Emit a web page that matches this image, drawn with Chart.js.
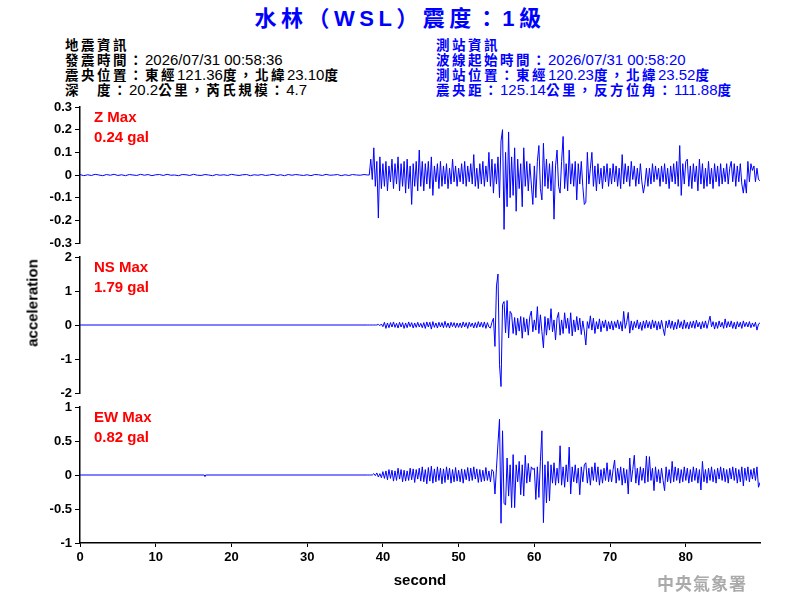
<!DOCTYPE html>
<html>
<head>
<meta charset="utf-8">
<script src="https://cdn.jsdelivr.net/npm/chart.js@4.4.1/dist/chart.umd.min.js"></script>
<style>
  body { margin: 0; background: #fff; }
  #page { position: relative; width: 800px; height: 600px; overflow: hidden; font-family: "Liberation Sans", Arial, "Noto Sans CJK TC", sans-serif; }
  #title { position: absolute; left: 0; width: 800px; top: 4px; text-align: center; color: #0000ff; font-weight: bold; font-size: 22px; letter-spacing: 4.5px; line-height: 30px; }
  .info { position: absolute; top: 37px; font-size: 15px; line-height: 15px; white-space: pre; }
  .info .c { font-family: "Noto Sans CJK TC", sans-serif; font-size: 13.5px; font-weight: bold; letter-spacing: 2.5px; }
  #quake { left: 65px; color: #000; }
  #station { left: 436px; color: #0000ff; }
  .panel { position: absolute; left: 0; width: 800px; }
  .tag { position: absolute; left: 94px; color: #ff0000; font-weight: bold; font-size: 15px; line-height: 20px; }
  #ylab { position: absolute; left: 32px; top: 303px; transform: translate(-50%, -50%) rotate(-90deg); font-weight: bold; font-size: 15px; color: #000; white-space: nowrap; }
  #mark { position: absolute; left: 657px; top: 570px; color: #aaa; font-size: 17px; letter-spacing: 1px; font-family: "Noto Sans CJK TC", serif; font-weight: bold; }
</style>
</head>
<body>
<div id="page">
  <div id="title">水林（WSL）震度：1級</div>
  <div id="quake" class="info"><span class="c">地震資訊</span>
<span class="c">發震時間：</span>2026/07/31 00:58:36
<span class="c">震央位置：東經</span>121.36<span class="c">度，北緯</span>23.10<span class="c">度</span>
<span class="c">深　度：</span>20.2<span class="c">公里，芮氏規模：</span>4.7</div>
  <div id="station" class="info"><span class="c">測站資訊</span>
<span class="c">波線起始時間：</span>2026/07/31 00:58:20
<span class="c">測站位置：東經</span>120.23<span class="c">度，北緯</span>23.52<span class="c">度</span>
<span class="c">震央距：</span>125.14<span class="c">公里，反方位角：</span>111.88<span class="c">度</span></div>

  <div class="panel" style="top:90px;height:170px"><canvas id="zChart"></canvas></div>
  <div class="panel" style="top:240px;height:170px"><canvas id="nsChart"></canvas></div>
  <div class="panel" style="top:390px;height:210px"><canvas id="ewChart"></canvas></div>

  <div class="tag" style="top:107px">Z Max<br>0.24 gal</div>
  <div class="tag" style="top:257px">NS Max<br>1.79 gal</div>
  <div class="tag" style="top:407px">EW Max<br>0.82 gal</div>
  <div id="ylab">acceleration</div>
  <div id="mark">中央氣象署</div>
</div>

<script>
// time axis (seconds)
const timeMax = 89.8;
const timeTicks = [0, 10, 20, 30, 40, 50, 60, 70, 80];

// quiet part before the P wave, Z sampled every 0.5 s from 0 s
const quietStep = 0.5;
const zQuiet = [
  0.002,-0.003,0.001,-0.002,0.003,0.000,-0.003,0.002,-0.001,0.003,
  -0.002,0.001,-0.003,0.002,0.000,-0.002,0.003,-0.001,0.002,-0.003,
  0.001,0.002,-0.002,0.003,-0.001,0.000,-0.003,0.002,0.001,-0.002,
  0.003,-0.001,-0.002,0.002,0.000,-0.003,0.002,-0.001,0.001,-0.002,
  0.003,0.000,-0.002,0.001,0.002,-0.003,0.001,-0.001,0.002,-0.002,
  0.000,0.003,-0.002,0.001,-0.003,0.002,-0.001,0.002,0.000,-0.002,
  0.001,-0.003,0.002,0.001,-0.002,0.003,-0.001,0.000,0.002,-0.003,
  0.001,-0.002,0.002,0.000,-0.001,0.002,0.000
];
const nsQuietTimes = [0, 38];
const nsQuiet = [0, 0];
const ewQuietTimes = [0, 16.4, 16.5, 16.6, 38];
const ewQuiet = [0, 0, -0.02, 0, 0];

// shaking part, sampled every 0.2 s from 38.2 s
const waveStart = 38.2;
const waveStep = 0.2;
const zWave = [
  0.00,0.07,-0.02,0.12,-0.05,0.06,-0.19,0.08,-0.06,0.05,
  -0.05,0.06,-0.07,0.04,-0.03,0.07,-0.06,0.05,-0.04,0.08,-0.07,0.05,-0.05,0.06,-0.08,0.07,-0.06,0.04,-0.13,0.05,-0.05,0.06,-0.07,0.11,-0.05,
  0.06,-0.07,0.05,-0.04,0.06,-0.06,0.08,-0.09,0.04,-0.03,0.05,-0.06,0.06,-0.05,0.04,-0.04,0.05,-0.06,0.03,-0.04,0.07,-0.03,0.04,-0.05,0.03,
  -0.03,0.05,-0.04,0.06,-0.05,0.04,-0.03,0.05,-0.04,0.09,-0.05,0.03,-0.06,0.05,-0.04,0.06,-0.05,0.04,-0.03,0.10,-0.05,0.07,-0.08,0.05,-0.04,
  0.08,-0.10,0.15,0.20,-0.24,0.10,-0.14,0.19,-0.10,0.08,-0.09,0.12,-0.16,0.07,-0.06,0.05,-0.14,0.12,-0.05,0.06,-0.07,0.05,-0.04,-0.13,0.04,
  -0.10,0.06,0.13,-0.06,-0.11,0.14,-0.05,0.07,-0.06,0.05,-0.07,0.06,-0.195,0.04,0.11,-0.05,-0.08,0.06,0.17,-0.06,0.05,-0.07,0.11,-0.04,0.05,
  -0.05,0.06,-0.11,0.05,-0.04,0.06,-0.05,-0.13,-0.12,0.10,-0.04,0.03,0.10,-0.05,0.04,-0.07,0.05,-0.04,0.03,-0.06,0.04,-0.03,0.05,-0.05,0.03,
  -0.04,0.05,-0.03,0.04,-0.05,0.03,-0.06,0.09,-0.04,0.05,-0.03,0.04,-0.05,0.06,-0.02,0.04,-0.05,0.03,-0.04,0.05,-0.03,-0.08,-0.04,0.03,-0.05,
  0.03,-0.04,0.05,-0.03,0.04,-0.02,0.03,-0.05,0.04,-0.03,0.05,-0.04,0.03,-0.06,0.04,-0.03,0.05,-0.04,0.06,-0.05,0.13,-0.09,0.05,-0.04,0.06,
  0.07,-0.05,0.04,-0.06,0.05,-0.03,0.04,-0.07,0.07,-0.04,0.05,-0.06,0.03,-0.05,0.06,-0.04,0.03,-0.06,0.05,-0.03,0.04,-0.05,0.05,-0.04,0.03,
  -0.03,0.05,-0.04,0.03,0.06,-0.03,0.05,-0.05,0.04,-0.03,0.05,-0.04,-0.08,-0.02,-0.08,0.06,-0.03,0.05,0.02,0.04,-0.03,0.03,-0.02,-0.025
];
const nsWave = [
  0,0,0,0,0,0,0.02,-0.02,0.03,-0.05,
  0.08,-0.10,0.06,-0.08,0.07,-0.06,0.09,-0.07,0.05,-0.09,0.08,-0.06,0.07,-0.10,0.06,-0.08,0.09,-0.05,0.07,-0.09,0.06,-0.07,0.08,-0.06,0.05,
  -0.08,0.07,-0.10,0.09,-0.06,0.08,-0.12,0.10,-0.07,0.06,-0.09,0.08,-0.06,0.07,-0.08,0.11,-0.07,0.06,-0.09,0.08,-0.05,0.07,-0.08,0.06,-0.07,
  0.06,-0.08,0.09,-0.06,0.07,-0.10,0.08,-0.05,0.06,-0.09,0.07,-0.08,0.10,-0.06,0.08,-0.07,0.09,-0.10,0.07,-0.06,-0.09,0.08,0.20,-0.63,1.15,
  1.50,-1.17,-1.81,0.60,0.69,-0.23,0.72,-0.38,0.40,0.32,-0.25,0.22,-0.30,0.20,-0.18,0.25,-0.39,0.22,-0.20,0.18,-0.30,0.25,0.41,-0.20,0.15,
  -0.15,0.54,-0.25,0.30,-0.20,-0.67,0.25,-0.30,0.20,-0.15,0.48,-0.20,0.15,-0.44,0.20,0.37,-0.30,0.15,-0.25,0.36,-0.10,0.20,-0.25,0.36,-0.32,
  0.15,-0.20,0.25,-0.15,0.20,-0.28,0.12,-0.18,-0.59,0.10,-0.10,0.27,-0.15,0.20,-0.25,0.10,-0.12,0.18,-0.20,0.12,-0.08,0.15,-0.18,0.10,-0.12,
  0.12,-0.15,0.10,-0.08,0.15,-0.12,0.10,-0.18,0.40,-0.10,0.08,0.37,-0.24,0.12,-0.15,0.10,-0.08,0.15,-0.12,0.08,-0.16,0.12,-0.10,0.14,-0.08,
  0.10,-0.12,0.15,-0.08,0.12,-0.15,0.10,-0.12,0.14,-0.10,-0.31,0.12,-0.08,0.15,-0.10,0.12,-0.14,0.08,-0.12,0.16,-0.08,0.10,-0.12,0.15,-0.10,
  0.08,-0.12,0.10,-0.08,0.12,-0.10,0.14,-0.06,0.08,-0.12,0.10,-0.08,0.12,-0.10,0.08,0.26,-0.05,0.10,-0.12,0.08,-0.10,0.12,-0.06,0.08,-0.10,
  0.18,-0.08,0.10,-0.06,0.12,-0.10,0.08,-0.12,0.10,-0.06,0.08,-0.10,0.12,-0.05,0.08,-0.06,0.10,-0.08,0.06,-0.05,0.08,-0.15,0.03,0.06
];
const ewWave = [
  0,0,0,0.02,-0.01,0.03,-0.03,0.02,-0.04,0.05,
  -0.05,0.06,-0.07,0.08,-0.05,0.07,-0.09,0.06,-0.08,0.10,-0.06,0.08,-0.10,0.07,-0.09,0.06,-0.08,0.10,-0.07,0.09,-0.11,0.08,-0.06,0.10,-0.09,
  0.12,-0.10,0.08,-0.13,0.11,-0.09,0.13,-0.12,0.09,-0.10,0.12,-0.08,0.10,-0.13,0.09,-0.11,0.12,-0.07,0.10,-0.12,0.08,-0.10,0.11,-0.09,0.07,
  -0.10,0.09,-0.12,0.08,-0.07,0.11,-0.09,0.10,-0.08,0.12,-0.06,0.09,-0.11,0.08,-0.10,0.07,-0.09,0.11,-0.08,0.06,-0.10,0.08,0.05,-0.28,0.10,
  0.47,0.82,-0.71,0.65,-0.42,-0.44,0.25,-0.31,0.15,-0.48,0.30,-0.48,0.15,-0.10,0.20,-0.29,0.15,-0.31,0.29,-0.12,0.17,-0.10,0.12,0.08,0.10,
  -0.36,0.12,-0.33,0.20,0.65,-0.70,0.15,-0.41,0.20,-0.38,0.15,-0.12,0.18,-0.15,0.10,-0.12,0.43,-0.15,0.12,-0.18,0.15,-0.10,0.41,-0.28,0.12,
  -0.10,0.15,-0.12,0.10,-0.29,0.12,-0.10,0.15,0.18,-0.12,0.10,-0.15,0.12,-0.08,0.18,-0.10,0.12,-0.15,0.08,-0.12,0.10,-0.08,0.18,-0.10,0.08,
  -0.10,0.08,0.22,-0.12,0.10,-0.08,0.12,-0.15,0.10,-0.12,0.08,-0.28,0.25,-0.10,0.08,0.29,-0.12,0.10,-0.15,0.12,-0.08,0.10,-0.12,0.28,-0.10,
  0.27,-0.08,0.10,-0.23,0.12,-0.10,0.08,-0.12,0.10,-0.08,-0.23,0.12,-0.10,0.08,-0.12,0.20,-0.10,0.12,-0.08,0.10,-0.12,0.08,-0.10,0.12,-0.08,
  0.10,-0.12,0.08,-0.10,0.12,-0.08,0.10,-0.12,0.08,-0.22,0.20,-0.10,0.08,-0.12,0.10,-0.08,0.12,-0.10,0.08,-0.12,0.10,-0.06,0.12,-0.08,0.10,
  -0.10,0.08,-0.12,0.10,-0.06,0.12,-0.08,0.10,-0.12,0.08,-0.10,0.12,-0.16,0.10,-0.08,0.12,-0.10,0.08,-0.06,0.10,-0.08,0.12,-0.18,-0.11
];

// y axis range and step per component
const zRange = [-0.3, 0.3, 0.1];
const nsRange = [-2, 2, 1];
const ewRange = [-1, 1, 0.5];

const toPoints = (quietTimes, quiet, wave) => {
  const pts = quiet.map((v, i) => ({ x: quietTimes ? quietTimes[i] : i * quietStep, y: v }));
  wave.forEach((v, i) => pts.push({ x: +(waveStart + i * waveStep).toFixed(1), y: v }));
  return pts;
};

const tickFont = { family: '"Liberation Sans", Arial, sans-serif', size: 13, weight: 'bold' };

const makeChart = (id, points, range, showX) => {
  const [lo, hi, step] = range;
  return new Chart(document.getElementById(id), {
    type: 'line',
    data: { datasets: [{
      data: points,
      borderColor: '#0000ff',
      borderWidth: 1,
      pointRadius: 0,
      tension: 0,
      fill: false
    }]},
    options: {
      responsive: true,
      maintainAspectRatio: false,
      animation: false,
      events: [],
      layout: { padding: { left: 0, right: 40, top: 17, bottom: showX ? 0 : 17 } },
      plugins: { legend: { display: false }, tooltip: { enabled: false } },
      scales: {
        x: {
          type: 'linear', min: 0, max: timeMax,
          display: showX,
          afterBuildTicks: s => { s.ticks = timeTicks.map(v => ({ value: v })); },
          afterFit: s => { if (showX) s.height = 57; },
          grid: { drawOnChartArea: false, drawTicks: true, tickLength: 4, color: '#000' },
          border: { color: '#000', width: 1.5 },
          ticks: { color: '#000', font: tickFont, padding: 3, maxRotation: 0 },
          title: { display: true, text: 'second', color: '#000', padding: { top: 0, bottom: 10 },
                   font: { family: '"Liberation Sans", Arial, sans-serif', size: 15, weight: 'bold' } }
        },
        y: {
          min: lo, max: hi,
          afterFit: s => { s.width = 80; },
          grid: { drawOnChartArea: false, drawTicks: true, tickLength: 5, color: '#000' },
          border: { color: '#000', width: 1.5 },
          ticks: { stepSize: step, autoSkip: false, color: '#000', font: tickFont, padding: 3,
                   callback: v => String(+(+v).toFixed(2)) }
        }
      }
    }
  });
};

makeChart('zChart', toPoints(null, zQuiet, zWave), zRange, false);
makeChart('nsChart', toPoints(nsQuietTimes, nsQuiet, nsWave), nsRange, false);
makeChart('ewChart', toPoints(ewQuietTimes, ewQuiet, ewWave), ewRange, true);
</script>
</body>
</html>
